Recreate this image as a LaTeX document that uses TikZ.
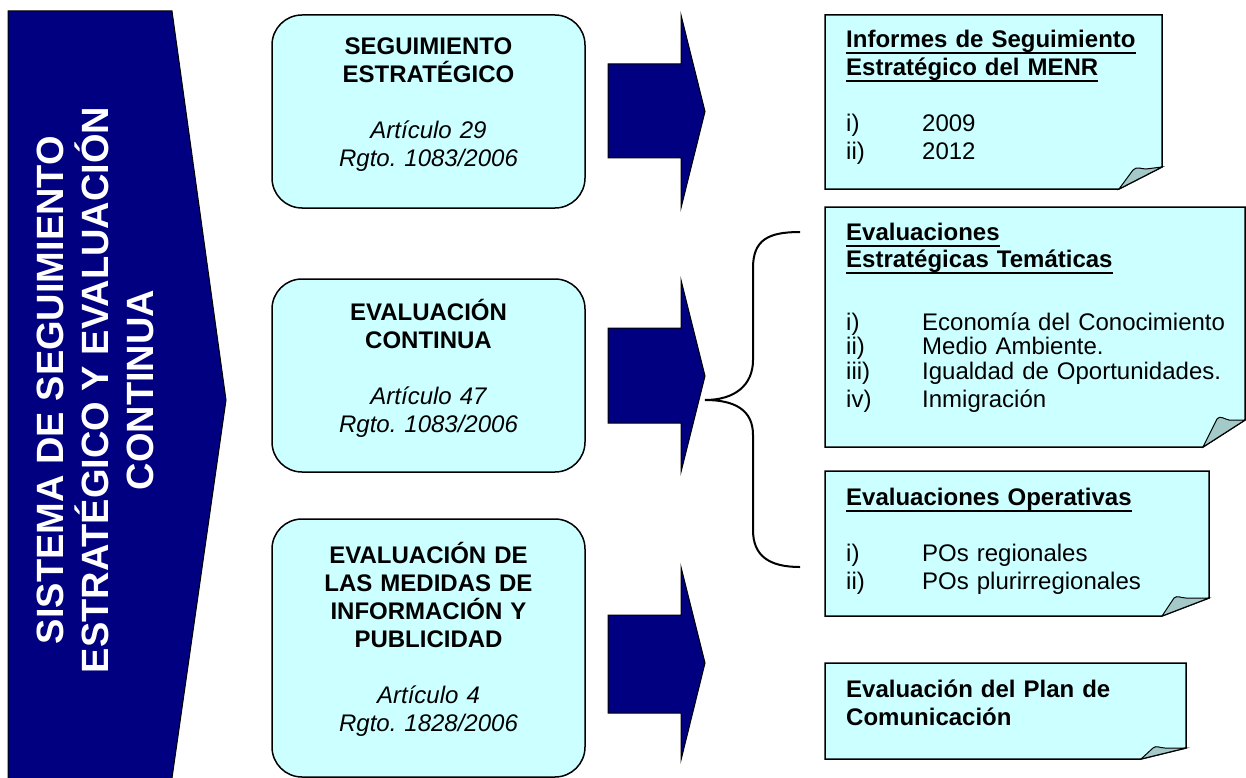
\documentclass[tikz,border=0pt]{standalone}
\usepackage{fontspec}
\setmainfont{Liberation Sans}
\frenchspacing
\definecolor{navy}{HTML}{000080}
\definecolor{boxcyan}{HTML}{CCFFFF}
\definecolor{flapgray}{HTML}{A3C9C9}
\newsavebox{\undlbox}
\newcommand{\undl}[1]{\leavevmode\sbox{\undlbox}{#1}\rlap{\rule[-6.5pt]{\wd\undlbox}{2pt}}\usebox{\undlbox}}

\begin{document}
\begin{tikzpicture}[x=1pt, y=-1pt,
    rbox/.style={draw=black, line width=1.5pt, fill=boxcyan, rounded corners=30pt,
      minimum width=313pt, text width=300pt, align=center, inner sep=0pt,
      font=\fontsize{24}{28}\selectfont},
    notetext/.style={anchor=north west, inner sep=0pt, text width=395pt, align=left,
      font=\fontsize{24}{28}\selectfont},
    noteshape/.style={draw=black, line width=1.5pt, fill=boxcyan},
    flap/.style={draw=black, line width=1pt, fill=flapgray},
    bigarrow/.style={draw=black, line width=1pt, fill=navy}]
  \useasboundingbox (0,0) rectangle (1246,778);
  \clip (0,0) rectangle (1246,778);

  % left chevron
  \filldraw[bigarrow] (8,11) -- (172,11) -- (226,400) -- (170,792) -- (8,792) -- cycle;
  \node[rotate=90, text=white, align=center, font=\fontsize{38}{45}\selectfont\bfseries]
    (sistema) at (95,390) {SISTEMA DE SEGUIMIENTO\\ESTRATÉGICO Y EVALUACIÓN\\CONTINUA};

  % rounded boxes
  \node[rbox, minimum height=193pt] (seguimiento) at (428.5,111.5)
    {\rule{0pt}{20pt}\bfseries SEGUIMIENTO\\ESTRATÉGICO\\[28pt]\mdseries\itshape Artículo 29\\Rgto. 1083/2006\rule[-21pt]{0pt}{21pt}};
  \node[rbox, minimum height=193pt] (continua) at (428.5,375.5)
    {\rule{0pt}{24pt}\bfseries EVALUACIÓN\\CONTINUA\\[28pt]\mdseries\itshape Artículo 47\\Rgto. 1083/2006\rule[-23pt]{0pt}{23pt}};
  \node[rbox, minimum height=258pt] (informacion) at (428.5,648)
    {\rule{0pt}{24pt}\bfseries EVALUACIÓN DE\\LAS MEDIDAS DE\\INFORMACIÓN Y\\PUBLICIDAD\\[28pt]\mdseries\itshape Artículo 4\\Rgto. 1828/2006\rule[-26pt]{0pt}{26pt}};

  % block arrows
  \filldraw[bigarrow] (608,64) -- (681,64) -- (681,15) -- (705,111.5) -- (681,208) -- (681,158) -- (608,158) -- cycle;
  \filldraw[bigarrow] (608,328) -- (681,328) -- (681,280) -- (705,376) -- (681,472) -- (681,423) -- (608,423) -- cycle;
  \filldraw[bigarrow] (608,615) -- (681,615) -- (681,567) -- (705,663) -- (681,760) -- (681,713) -- (608,713) -- cycle;

  % brace
  \draw[line width=2pt] (800,232) .. controls (768,232) and (753,240) .. (753,268) -- (753,360)
    .. controls (753,385) and (735,400) .. (705,400) .. controls (735,400) and (753,410) .. (753,435)
    -- (753,530) .. controls (753,555) and (768,567) .. (800,567);

  % notes
  \filldraw[noteshape] (825,15) -- (1162,15) -- (1162,167) -- (1119,189) -- (825,189) -- cycle;
  \filldraw[flap] (1119,189) -- (1133,170) .. controls (1137,166) and (1141,169) .. (1146,169) -- (1162,167) -- cycle;
  \filldraw[noteshape] (825,207) -- (1245,207) -- (1245,420) -- (1203,447) -- (825,447) -- cycle;
  \filldraw[flap] (1203,447) -- (1217,419) .. controls (1220,415) and (1224,419) .. (1229,420) -- (1245,420) -- cycle;
  \filldraw[noteshape] (825,471) -- (1209,471) -- (1209,598) -- (1162,616) -- (825,616) -- cycle;
  \filldraw[flap] (1162,616) -- (1174,598) .. controls (1177,595) and (1181,598) .. (1186,598) -- (1209,598) -- cycle;
  \filldraw[noteshape] (825,663) -- (1186,663) -- (1186,748) -- (1141,759) -- (825,759) -- cycle;
  \filldraw[flap] (1141,759) -- (1153,748) .. controls (1156,745) and (1160,748) .. (1165,748) -- (1186,748) -- cycle;

  \node[notetext] (informes) at (846,27)
    {\rule{0pt}{20pt}\bfseries\undl{Informes de Seguimiento}\\\undl{Estratégico del MENR}\\[28pt]\mdseries
     \makebox[76pt][l]{i)}2009\\\makebox[76pt][l]{ii)}2012};
  \node[notetext] (tematicas) at (846,220)
    {\fontsize{24}{27}\selectfont\rule{0pt}{20pt}\bfseries\undl{Evaluaciones}\\\undl{Estratégicas Temáticas}\par
     \vspace{38.5pt}\fontsize{24}{24.5}\selectfont\mdseries
     \makebox[76pt][l]{i)}Economía del Conocimiento\\
     \makebox[76pt][l]{ii)}Medio Ambiente.\\
     \makebox[76pt][l]{iii)}Igualdad de Oportunidades.\\
     \makebox[76pt][l]{iv)}Inmigración};
  \node[notetext] (operativas) at (846,485)
    {\rule{0pt}{20pt}\bfseries\undl{Evaluaciones Operativas}\\[28pt]\mdseries
     \makebox[76pt][l]{i)}POs regionales\\\makebox[76pt][l]{ii)}POs plurirregionales};
  \node[notetext] (plancom) at (846,677)
    {\rule{0pt}{20pt}\bfseries Evaluación del Plan de\\Comunicación};
\end{tikzpicture}
\end{document}
